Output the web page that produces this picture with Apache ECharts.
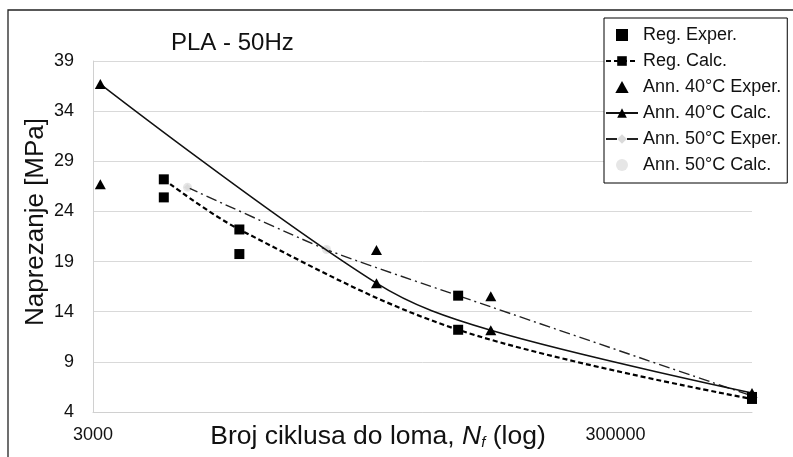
<!DOCTYPE html>
<html><head><meta charset="utf-8">
<script src="https://cdn.jsdelivr.net/npm/echarts@6/dist/echarts.min.js"></script>
<style>html,body{margin:0;padding:0;background:#fff}#c{width:793px;height:457px}</style>
</head><body><div id="c"></div>
<script>
// ---- data ----
const xTickLabels = [3000, 300000];
const yMin = 4, yMax = 39, yStep = 5;

const regExperN = [5600, 10900, 75000, 1000000];
const regExperS = [25.4, 19.75, 15.6, 5.5];

const regCalcN = [5600, 10900, 75000, 1000000];
const regCalcS = [27.2, 22.2, 12.2, 5.3];

const ann40ExperN = [3200, 36500, 100000];
const ann40ExperS = [26.7, 20.15, 15.55];

const ann40CalcN = [3200, 36500, 100000, 1000000];
const ann40CalcS = [36.7, 16.85, 12.15, 5.9];

const ann50ExperN = [6900, 23500, 75000, 1000000];
const ann50ExperS = [26.4, 20.2, 15.6, 5.6];

const ann50CalcN = [6900, 23500, 75000, 1000000];
const ann50CalcS = [26.4, 20.2, 15.6, 5.6];

const seriesNames = ['Reg. Exper.', 'Reg. Calc.', 'Ann. 40°C Exper.', 'Ann. 40°C Calc.', 'Ann. 50°C Exper.', 'Ann. 50°C Calc.'];

function pairs(n, s) { return n.map((v, i) => [v, s[i]]); }

const FONT = 'Liberation Sans, Arial, sans-serif';
const chart = echarts.init(document.getElementById('c'), null, {renderer: 'canvas'});

chart.setOption({
  animation: false,
  backgroundColor: '#fff',
  textStyle: {fontFamily: FONT},
  title: {
    text: 'PLA - 50Hz', left: 166, top: 26,
    textStyle: {fontSize: 24, fontWeight: 'normal', color: '#111', fontFamily: FONT}
  },
  grid: {left: 93, right: 41, top: 61, bottom: 45, containLabel: false},
  legend: {
    orient: 'vertical', left: 604, top: 18,
    padding: [8, 6, 9, 1], itemGap: 8, itemWidth: 32, itemHeight: 12,
    symbolKeepAspect: true,
    backgroundColor: '#fff', borderColor: '#000', borderWidth: 1,
    textStyle: {fontSize: 18, lineHeight: 18, color: '#111', fontFamily: FONT},
    data: [
      {name: seriesNames[0], icon: 'path://M0,0H10V10H0Z'},
      {name: seriesNames[1]},
      {name: seriesNames[2], icon: 'path://M5,0L10,9H0Z'},
      {name: seriesNames[3]},
      {name: seriesNames[4]},
      {name: seriesNames[5], icon: 'circle'}
    ]
  },
  xAxis: {
    type: 'log', logBase: 10, min: 3000, max: 1000000,
    axisLine: {show: true, lineStyle: {color: '#d0d0d0', width: 1}},
    axisTick: {show: false},
    splitLine: {show: false},
    axisLabel: {
      customValues: xTickLabels,
      fontSize: 18, color: '#111', margin: 14, fontFamily: FONT,
      formatter: v => String(Math.round(v))
    }
  },
  yAxis: {
    type: 'value', min: yMin, max: yMax, interval: yStep,
    axisLine: {show: true, lineStyle: {color: '#d0d0d0', width: 1}},
    axisTick: {show: false},
    splitLine: {show: true, lineStyle: {color: '#d9d9d9', width: 1}},
    axisLabel: {fontSize: 18, color: '#111', margin: 19, fontFamily: FONT}
  },
  graphic: [
    {type: 'rect', shape: {x: 8, y: 10, width: 800, height: 460}, style: {fill: 'none', stroke: '#222', lineWidth: 1.3}, z: 100},
    {type: 'text', x: 378, y: 437, z: 100, style: {
      text: '{a|Broj ciklusa do loma, }{n|N}{s|f}{a| (log)}',
      align: 'center', verticalAlign: 'middle',
      rich: {
        a: {fontSize: 26.5, fontFamily: FONT, fill: '#111'},
        n: {fontSize: 26.5, fontFamily: FONT, fontStyle: 'italic', fill: '#111'},
        s: {fontSize: 15, fontFamily: FONT, fontStyle: 'italic', fill: '#111', verticalAlign: 'bottom', lineHeight: 10}
      }
    }},
    {type: 'text', x: 36, y: 222, rotation: Math.PI / 2, z: 100, style: {
      text: 'Naprezanje [MPa]', fontSize: 26, fontFamily: FONT, fill: '#111',
      align: 'center', verticalAlign: 'middle'
    }}
  ],
  series: [
    {name: seriesNames[0], type: 'scatter', symbol: 'rect', symbolSize: 10,
      itemStyle: {color: '#000', opacity: 1}, data: pairs(regExperN, regExperS), z: 5},
    {name: seriesNames[1], type: 'line', smooth: 0.35, symbol: 'rect', symbolSize: 10,
      lineStyle: {color: '#000', width: 2.2, type: [5, 3]}, itemStyle: {color: '#000'},
      data: pairs(regCalcN, regCalcS), z: 4},
    {name: seriesNames[2], type: 'scatter', symbol: 'triangle', symbolSize: [11, 10],
      itemStyle: {color: '#000', opacity: 1}, data: pairs(ann40ExperN, ann40ExperS), z: 5},
    {name: seriesNames[3], type: 'line', smooth: 0.35, symbol: 'triangle', symbolSize: [11, 10],
      lineStyle: {color: '#111', width: 1.5}, itemStyle: {color: '#000'},
      data: pairs(ann40CalcN, ann40CalcS), z: 4},
    {name: seriesNames[4], type: 'line', smooth: 0.2, symbol: 'diamond', symbolSize: 7,
      lineStyle: {color: '#222', width: 1.4, type: [11, 4, 2, 4]}, itemStyle: {color: '#dadada'},
      data: pairs(ann50ExperN, ann50ExperS), z: 3},
    {name: seriesNames[5], type: 'scatter', symbol: 'circle', symbolSize: 9,
      itemStyle: {color: '#e6e6e6', opacity: 1}, data: pairs(ann50CalcN, ann50CalcS), z: 2}
  ]
});
</script></body></html>
